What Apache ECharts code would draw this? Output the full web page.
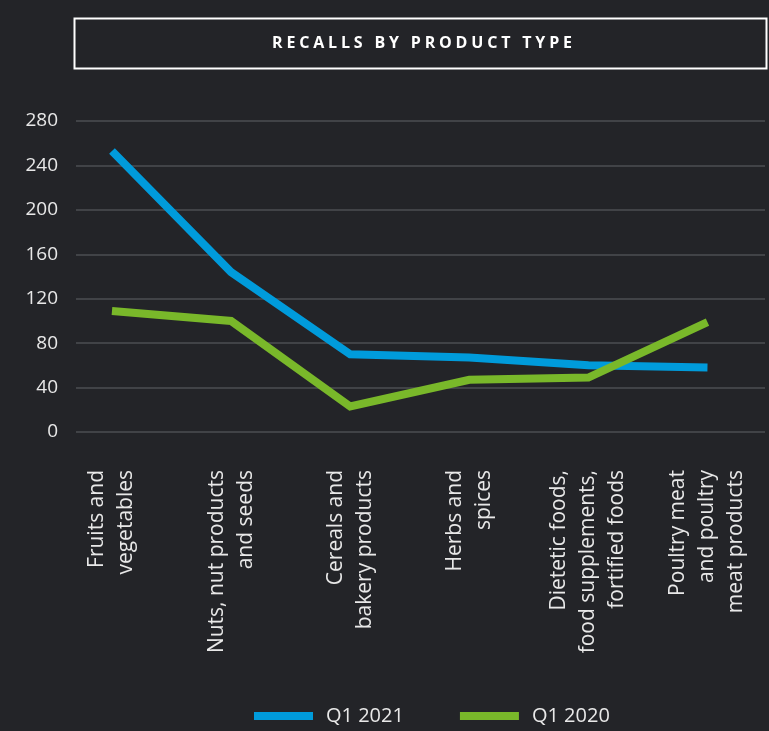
<!DOCTYPE html>
<html>
<head>
<meta charset="utf-8">
<script src="https://cdn.jsdelivr.net/npm/echarts@6/dist/echarts.min.js"></script>
<style>
  html, body { margin: 0; padding: 0; background: #232428; }
  #chart { width: 769px; height: 731px; }
</style>
</head>
<body>
<div id="chart"></div>
<script>
// Recalls per product type, first quarter of each year
const categories = [
  'Fruits and\nvegetables',
  'Nuts, nut products\nand seeds',
  'Cereals and\nbakery products',
  'Herbs and\nspices',
  'Dietetic foods,\nfood supplements,\nfortified foods',
  'Poultry meat\nand poultry\nmeat products'
];
const q1_2021 = [253, 144, 70, 67, 60, 58];
const q1_2020 = [109, 100, 23, 47, 49, 99];
const yTicks = [0, 40, 80, 120, 160, 200, 240, 280];
const chartTitle = 'RECALLS BY PRODUCT TYPE';

const FONT = '"Open Sans", "Noto Sans", sans-serif';
const TEXT = '#e8e8e8';

const toPairs = arr => arr.map((v, i) => [i, v]);

// Tracked-out heading: lay the letters out one by one with extra spacing
function spacedTitle(text, font, totalWidth, cx, cy) {
  const ctx = document.createElement('canvas').getContext('2d');
  ctx.font = font;
  const widths = Array.from(text).map(ch => ctx.measureText(ch).width);
  const natural = widths.reduce((a, b) => a + b, 0);
  const gap = (totalWidth - natural) / (widths.length - 1);
  let x = cx - totalWidth / 2;
  const children = [];
  Array.from(text).forEach((ch, i) => {
    if (ch !== ' ') {
      children.push({
        type: 'text', x: x, y: cy,
        style: { text: ch, fill: '#ffffff', font: font, verticalAlign: 'middle', align: 'left' }
      });
    }
    x += widths[i] + gap;
  });
  return { type: 'group', children: children };
}

const chart = echarts.init(document.getElementById('chart'));
chart.setOption({
  backgroundColor: '#232428',
  animation: false,
  textStyle: { fontFamily: FONT },
  graphic: [
    {
      type: 'rect',
      left: 72, top: 16,
      shape: { width: 692, height: 50 },
      style: { fill: 'none', stroke: '#ffffff', lineWidth: 2 }
    },
    spacedTitle(chartTitle, 'bold 16px ' + FONT, 300, 422, 43)
  ],
  legend: {
    left: 254, top: 706,
    padding: 0,
    icon: 'rect',
    itemWidth: 59, itemHeight: 8,
    itemGap: 56,
    textStyle: { color: TEXT, fontSize: 20, fontFamily: FONT, padding: [0, 0, 0, 8] },
    data: ['Q1 2021', 'Q1 2020']
  },
  grid: { left: 76, right: 4, top: 121, bottom: 299, containLabel: false },
  xAxis: {
    type: 'value',
    min: -0.302, max: 5.483,
    splitLine: { show: false },
    axisLine: { show: false },
    axisTick: { show: false },
    axisLabel: {
      customValues: categories.map((c, i) => i),
      formatter: v => categories[Math.round(v)],
      rotate: 90,
      margin: 38,
      color: TEXT,
      fontSize: 21,
      lineHeight: 29,
      fontFamily: FONT
    }
  },
  yAxis: {
    type: 'value',
    min: yTicks[0], max: yTicks[yTicks.length - 1], interval: 40,
    axisLine: { show: false },
    axisTick: { show: false },
    axisLabel: { color: TEXT, fontSize: 19, margin: 18, fontFamily: FONT },
    splitLine: { lineStyle: { color: '#4d4e52', width: 1.5 } }
  },
  series: [
    {
      name: 'Q1 2021', type: 'line',
      data: toPairs(q1_2021),
      showSymbol: false, symbol: 'none',
      color: '#009bdb',
      lineStyle: { width: 8, color: '#009bdb', cap: 'butt', join: 'miter' }
    },
    {
      name: 'Q1 2020', type: 'line',
      data: toPairs(q1_2020),
      showSymbol: false, symbol: 'none',
      color: '#79b82a',
      lineStyle: { width: 8, color: '#79b82a', cap: 'butt', join: 'miter' }
    }
  ]
});
</script>
</body>
</html>
